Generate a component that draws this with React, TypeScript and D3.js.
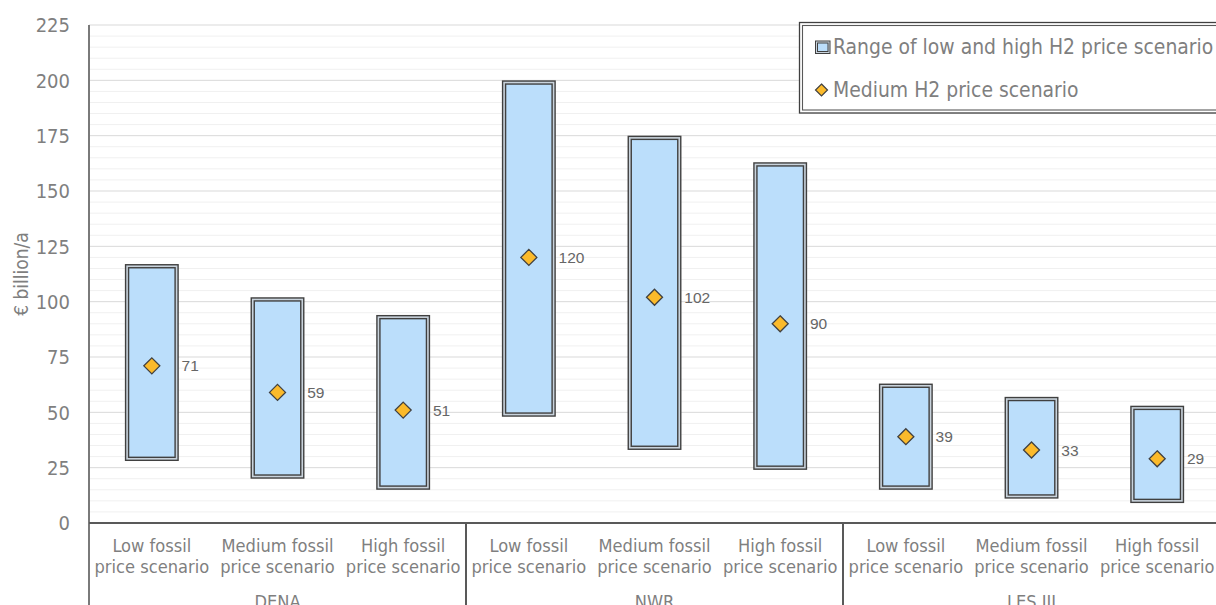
import React from "react";
import * as d3 from "d3";

const categoryLine1 = ["Low fossil", "Medium fossil", "High fossil", "Low fossil", "Medium fossil", "High fossil", "Low fossil", "Medium fossil", "High fossil"];
const categoryLine2 = ["price scenario", "price scenario", "price scenario", "price scenario", "price scenario", "price scenario", "price scenario", "price scenario", "price scenario"];
const groups = ["DENA", "NWR", "LES III"];
const lowValues = [29, 21, 16, 49, 34, 25, 16, 12, 10];
const highValues = [116, 101, 93, 199, 174, 162, 62, 56, 52];
const mediumValues = [71, 59, 51, 120, 102, 90, 39, 33, 29];
const yTicks = [0, 25, 50, 75, 100, 125, 150, 175, 200, 225];
const legendLabels = ["Range of low and high H2 price scenario", "Medium H2 price scenario"];

const W = 1216;
const H = 605;
const left = 89;
const catW = 125.67;
const top = 25;
const bottom = 523;
const FONT = "'DejaVu Sans Condensed', 'DejaVu Sans', sans-serif";
const TXT = "#7f7f7f";
const DARK = "#404040";
const FILL = "#BBDEFB";
const GOLD = "#FBBA2B";

export default function App() {
  const idx = categoryLine1.map((_, i) => String(i));
  const x = d3.scaleBand<string>().domain(idx).range([left, left + catW * idx.length]).padding(0);
  const y = d3.scaleLinear().domain([0, 225]).range([bottom, top]);
  const bw = x.bandwidth() * 0.394;
  const minor = d3.range(5, 226, 5).filter((v) => v % 25 !== 0);

  const diamond = (cx: number, cy: number, r: number) =>
    `M${cx},${cy - r}L${cx + r},${cy}L${cx},${cy + r}L${cx - r},${cy}Z`;

  return (
    <svg width={W} height={H} style={{ position: "absolute", left: 0, top: 0, background: "#fff" }} fontFamily={FONT}>
      <rect x={0} y={0} width={W} height={H} fill="#fff" />
      {minor.map((v) => (
        <line key={"m" + v} x1={left} x2={W} y1={y(v)} y2={y(v)} stroke="#f0f0f0" strokeWidth={1} />
      ))}
      {yTicks.filter((v) => v > 0).map((v) => (
        <line key={"g" + v} x1={left} x2={W} y1={y(v)} y2={y(v)} stroke="#d9d9d9" strokeWidth={1} />
      ))}
      {yTicks.map((v) => (
        <text key={"t" + v} x={70} y={y(v)} dy="0.36em" textAnchor="end" fontSize={20} fill={TXT}>
          {v}
        </text>
      ))}
      <text transform={`translate(28,${(top + bottom) / 2}) rotate(-90)`} textAnchor="middle" fontSize={19} fill={TXT}>
        € billion/a
      </text>

      {idx.map((k, i) => {
        const cx = (x(k) as number) + x.bandwidth() / 2;
        const y0 = y(highValues[i]);
        const y1 = y(lowValues[i]);
        return (
          <g key={"b" + i}>
            <rect x={cx - bw / 2} y={y0} width={bw} height={y1 - y0} fill={FILL} stroke={DARK} strokeWidth={4.4} />
            <rect x={cx - bw / 2} y={y0} width={bw} height={y1 - y0} fill="none" stroke="#c9d3dc" strokeWidth={1.6} />
            <path d={diamond(cx, y(mediumValues[i]), 8)} fill={GOLD} stroke={DARK} strokeWidth={1.3} />
            <text x={cx + bw / 2 + 5} y={y(mediumValues[i])} dy="0.36em" fontSize={15.5} fontFamily="'Liberation Sans', Arial, sans-serif" fill="#666">
              {mediumValues[i]}
            </text>
            <text x={cx} y={551.5} textAnchor="middle" fontSize={18.1} fill={TXT}>
              {categoryLine1[i]}
            </text>
            <text x={cx} y={573} textAnchor="middle" fontSize={18.1} fill={TXT}>
              {categoryLine2[i]}
            </text>
          </g>
        );
      })}

      {groups.map((g, gi) => {
        const gx = (x(String(gi * 3)) as number) + (x.bandwidth() * 3) / 2;
        return (
          <text key={"grp" + g} x={gx} y={607.5} textAnchor="middle" fontSize={18.1} fill={TXT}>
            {g}
          </text>
        );
      })}
      {[3, 6].map((i) => (
        <line key={"d" + i} x1={x(String(i)) as number} x2={x(String(i)) as number} y1={bottom} y2={H} stroke="#595959" strokeWidth={2} />
      ))}
      <line x1={left} x2={left} y1={top} y2={H} stroke="#7a7a7a" strokeWidth={2} />
      <line x1={left} x2={W} y1={bottom} y2={bottom} stroke="#595959" strokeWidth={2} />

      <g>
        <rect x={799.5} y={22.5} width={430} height={90.5} fill="#fff" stroke={DARK} strokeWidth={1.3} />
        <rect x={802.5} y={25.5} width={430} height={84.5} fill="none" stroke="#595959" strokeWidth={1.1} />
        <rect x={816.5} y={42} width={12.5} height={10.5} fill={FILL} stroke={DARK} strokeWidth={3} />
        <rect x={816.5} y={42} width={12.5} height={10.5} fill="none" stroke="#c9d3dc" strokeWidth={1} />
        <text x={833} y={53.5} fontSize={20.9} fill={TXT}>
          {legendLabels[0]}
        </text>
        <path d={diamond(821.5, 90, 6)} fill={GOLD} stroke={DARK} strokeWidth={1.2} />
        <text x={833} y={96.7} fontSize={20.9} fill={TXT}>
          {legendLabels[1]}
        </text>
      </g>
    </svg>
  );
}
